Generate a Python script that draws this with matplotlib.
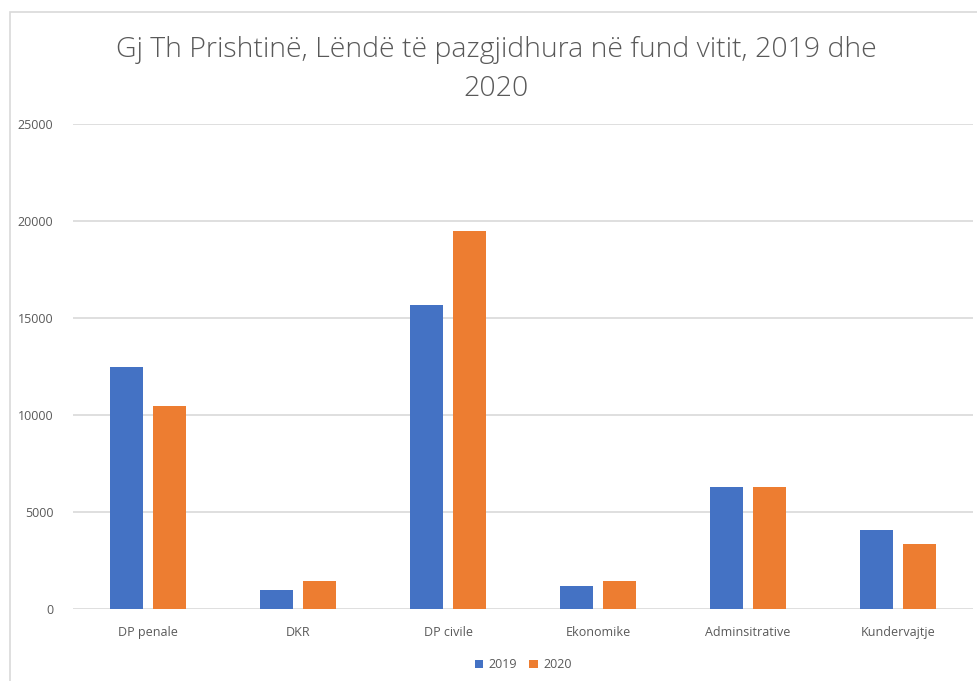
import matplotlib.pyplot as plt
from matplotlib.patches import Rectangle
import numpy as np

categories = ["DP penale", "DKR", "DP civile", "Ekonomike", "Adminsitrative", "Kundervajtje"]
v2019 = [12450, 1000, 15650, 1180, 6300, 4050]
v2020 = [10480, 1450, 19500, 1440, 6300, 3340]
yticks = [0, 5000, 10000, 15000, 20000, 25000]

plt.rcParams['font.family'] = ['Open Sans', 'DejaVu Sans']

fig = plt.figure(figsize=(9.77, 6.81), dpi=100)
ax = fig.add_axes([0.0747, 0.1057, 0.9213, 0.7122])

# chart frame
fig.patches.append(Rectangle((10 / 977, -0.1), 1.2, 1 - 12 / 681 + 0.1, transform=fig.transFigure,
                             fill=False, edgecolor="#d9d9d9", linewidth=1.2))

x = np.arange(len(categories))
w = 0.22
gap = 0.067
ax.bar(x - (w + gap) / 2, v2019, w, color="#4472c4", label="2019", zorder=3)
ax.bar(x + (w + gap) / 2, v2020, w, color="#ed7d31", label="2020", zorder=3)

ax.set_xlim(-0.5, len(categories) - 0.5)
ax.set_ylim(0, 25000)
ax.set_yticks(yticks)
ax.set_yticklabels([str(t) for t in yticks], fontsize=9, color="#595959")
ax.set_xticks(x)
ax.set_xticklabels(categories, fontsize=9, color="#595959")
ax.tick_params(length=0, pad=12)
ax.tick_params(axis="y", pad=14)
ax.grid(axis="y", color="#d9d9d9", linewidth=1.2, zorder=0)
for s in ax.spines.values():
    s.set_visible(False)

fig.text(0.508, 0.898, "Gj Th Prishtinë, Lëndë të pazgjidhura në fund vitit, 2019 dhe\n2020",
         ha="center", va="center", fontsize=20.5, color="#595959", linespacing=1.5,
         fontweight="light")

ax.legend(loc="center", bbox_to_anchor=(0.5, -0.115), bbox_transform=ax.transAxes,
          ncol=2, frameon=False, fontsize=9, handlelength=0.7, handleheight=0.7,
          columnspacing=1.0, handletextpad=0.4, labelcolor="#595959")

fig.savefig("out.png", dpi=100)
